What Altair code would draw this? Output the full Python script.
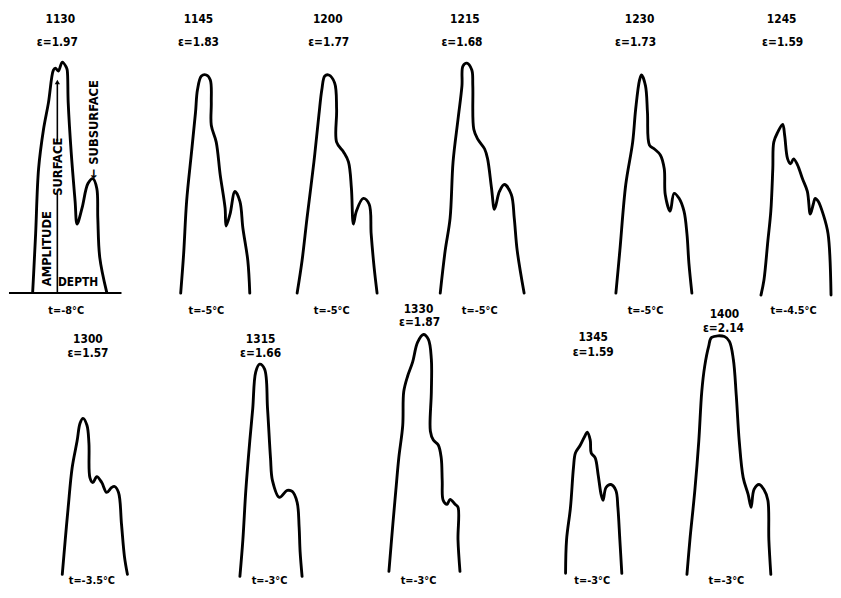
import altair as alt
import pandas as pd

# ---------------- data ----------------
times = ["1130", "1145", "1200", "1215", "1230", "1245",
         "1300", "1315", "1330", "1345", "1400"]
eps_values = ["1.97", "1.83", "1.77", "1.68", "1.73", "1.59",
              "1.57", "1.66", "1.87", "1.59", "2.14"]
temps = ["-8", "-5", "-5", "-5", "-5", "-4.5",
         "-3.5", "-3", "-3", "-3", "-3"]

# each trace: depth (from the trace's left foot) and amplitude (above its baseline)
depth_1130 = [0, 1, 3, 6, 11, 16, 21, 23, 26, 30, 34, 35, 36, 39, 43, 45, 50, 56, 61, 65, 66, 68, 75]
amp_1130 = [0, 19, 59, 125, 165, 192, 225, 227, 224, 233, 228, 225, 192, 142, 92, 69, 85, 110, 115, 105, 75, 35, 0]

depth_1145 = [0, 3, 6, 11, 15, 17, 21, 26, 30, 31, 31, 36, 40, 45, 46, 50, 55, 60, 63, 68, 70]
amp_1145 = [0, 40, 93, 143, 183, 206, 220, 221, 216, 193, 170, 153, 120, 86, 68, 80, 103, 93, 66, 33, 0]

depth_1200 = [0, 5, 10, 17, 22, 25, 28, 32, 38, 40, 40, 47, 52, 55, 57, 60, 67, 73, 75, 78, 81]
amp_1200 = [0, 33, 76, 133, 180, 206, 220, 221, 213, 186, 153, 143, 133, 106, 70, 83, 96, 90, 60, 26, 0]

depth_1215 = [0, 5, 10, 13, 18, 22, 23, 27, 32, 33, 34, 38, 45, 48, 52, 55, 60, 65, 72, 75, 78, 85]
amp_1215 = [0, 43, 76, 133, 176, 210, 230, 233, 226, 210, 166, 156, 146, 136, 106, 85, 103, 110, 100, 76, 43, 0]

depth_1230 = [0, 4, 10, 17, 20, 24, 26, 30, 32, 34, 39, 45, 49, 50, 55, 59, 64, 69, 72, 74, 77]
amp_1230 = [0, 43, 110, 153, 186, 216, 221, 210, 183, 150, 146, 140, 126, 100, 83, 101, 96, 83, 60, 30, 0]

depth_1245 = [0, 3, 7, 10, 12, 13, 17, 22, 24, 27, 30, 33, 37, 42, 47, 50, 53, 55, 58, 63, 68, 71]
amp_1245 = [0, 15, 55, 85, 128, 155, 165, 173, 162, 138, 133, 138, 132, 118, 105, 82, 92, 98, 95, 82, 62, 0]

depth_1300 = [0, 3, 6, 10, 15, 18, 21, 25, 27, 28, 31, 35, 40, 45, 50, 53, 57, 60, 63, 66]
amp_1300 = [0, 35, 68, 108, 135, 153, 158, 151, 133, 98, 93, 99, 93, 83, 88, 89, 83, 51, 18, 0]

depth_1315 = [0, 3, 6, 10, 13, 16, 20, 25, 28, 31, 33, 40, 48, 53, 58, 60, 61, 63]
amp_1315 = [0, 37, 87, 137, 170, 207, 215, 210, 170, 120, 97, 80, 87, 86, 75, 50, 25, 0]

depth_1330 = [0, 4, 7, 10, 14, 15, 19, 24, 29, 35, 40, 43, 43, 42, 45, 50, 53, 54, 55, 59, 62, 67, 70, 70, 72]
amp_1330 = [0, 48, 82, 115, 148, 182, 198, 212, 232, 240, 235, 215, 182, 142, 133, 128, 115, 92, 72, 68, 73, 68, 65, 32, 0]

depth_1345 = [0, 1, 5, 8, 10, 15, 20, 22, 25, 26, 30, 33, 36, 38, 41, 46, 51, 53, 55, 57]
amp_1345 = [0, 34, 67, 107, 122, 130, 140, 143, 135, 122, 117, 100, 80, 74, 87, 90, 84, 67, 34, 0]

depth_1400 = [0, 3, 8, 12, 15, 18, 22, 25, 38, 43, 47, 50, 53, 57, 62, 65, 68, 73, 78, 82, 83, 85]
amp_1400 = [0, 35, 85, 135, 185, 211, 231, 240, 241, 236, 218, 181, 135, 98, 81, 68, 86, 91, 86, 75, 35, 0]

depths = [depth_1130, depth_1145, depth_1200, depth_1215, depth_1230, depth_1245,
          depth_1300, depth_1315, depth_1330, depth_1345, depth_1400]
amps = [amp_1130, amp_1145, amp_1200, amp_1215, amp_1230, amp_1245,
        amp_1300, amp_1315, amp_1330, amp_1345, amp_1400]

# ---------------- layout (page positions of each small panel) ----------------
foot = [(32, 292), (182, 293), (300, 293), (445, 293), (623, 293), (770, 295),
        (62, 578), (242, 580), (393, 575), (572, 577), (695, 578)]
time_pos = [(60, 15), (200, 15), (331, 15), (470, 15), (647, 15), (791, 15),
            (88, 340), (263, 340), (423, 309), (600, 338), (733, 314)]
eps_pos = [(57, 39), (200, 39), (332, 39), (467, 39), (643, 39), (792, 39),
           (88, 354), (263, 354), (424, 322), (600, 353), (732, 328)]
temp_pos = [(66, 311), (208, 311), (335, 311), (485, 311), (653, 311), (803, 311),
            (92, 585), (272, 585), (423, 585), (599, 585), (735, 585)]

rows = []
for k, (d, a) in enumerate(zip(depths, amps)):
    x0, y0 = foot[k]
    for i, (dd, aa) in enumerate(zip(d, a)):
        rows.append({"panel": times[k], "i": i, "x": x0 + dd, "y": y0 - aa})
curves = pd.DataFrame(rows)

head_labels = []
temp_labels = []
for k in range(len(times)):
    head_labels.append({"x": time_pos[k][0], "y": time_pos[k][1], "text": times[k]})
    head_labels.append({"x": eps_pos[k][0], "y": eps_pos[k][1], "text": "ε=" + eps_values[k]})
    temp_labels.append({"x": temp_pos[k][0], "y": temp_pos[k][1], "text": "t=" + temps[k] + "°C"})
head_labels = pd.DataFrame(head_labels)
temp_labels = pd.DataFrame(temp_labels)

# explanatory sketch in the first panel
axis_rules = pd.DataFrame([
    {"x": 8, "x2": 122, "y": 293, "y2": 293, "w": 2.0},
    {"x": 57, "x2": 57, "y": 292, "y2": 192, "w": 1.6},
    {"x": 57, "x2": 57, "y": 139, "y2": 80, "w": 1.6},
])
arrow_head = pd.DataFrame([{"x": 57, "y": 79}])
vert_labels = pd.DataFrame([
    {"x": 47, "y": 248, "text": "AMPLITUDE"},
    {"x": 58, "y": 165, "text": "SURFACE"},
    {"x": 94, "y": 127, "text": "← SUBSURFACE"},
])
horiz_labels = pd.DataFrame([{"x": 78, "y": 282, "text": "DEPTH"}])

FONT = "Liberation Sans Narrow, DejaVu Sans Condensed, Arial Narrow, sans-serif"

xs = alt.Scale(domain=[8, 833], nice=False, zero=False)
ys = alt.Scale(domain=[8, 590], nice=False, zero=False, reverse=True)
X = lambda f="x": alt.X(f"{f}:Q", scale=xs, axis=None)
Y = lambda f="y": alt.Y(f"{f}:Q", scale=ys, axis=None)

lines = alt.Chart(curves).mark_line(
    color="black", strokeWidth=2.9, interpolate="catmull-rom",
    strokeCap="round", strokeJoin="round"
).encode(x=X(), y=Y(), detail="panel:N", order="i:Q")

rules = alt.Chart(axis_rules).mark_rule(color="black").encode(
    x=X(), x2="x2:Q", y=Y(), y2="y2:Q",
    strokeWidth=alt.StrokeWidth("w:Q", scale=None)
)

head = alt.Chart(arrow_head).mark_point(
    shape="triangle-up", filled=True, color="black", size=28, opacity=1
).encode(x=X(), y=Y())

text = alt.Chart(head_labels).mark_text(
    font=FONT, fontWeight="bold", fontSize=12, color="black",
    align="center", baseline="middle"
).encode(x=X(), y=Y(), text="text:N")

ttext = alt.Chart(temp_labels).mark_text(
    font=FONT, fontWeight="bold", fontSize=11, color="black",
    align="center", baseline="middle"
).encode(x=X(), y=Y(), text="text:N")

vtext = alt.Chart(vert_labels).mark_text(
    font=FONT, fontWeight="bold", fontSize=13, color="black",
    align="center", baseline="middle", angle=270
).encode(x=X(), y=Y(), text="text:N")

htext = alt.Chart(horiz_labels).mark_text(
    font=FONT, fontWeight="bold", fontSize=12, color="black",
    align="center", baseline="middle"
).encode(x=X(), y=Y(), text="text:N")

chart = alt.layer(rules, head, lines, text, ttext, vtext, htext).properties(
    width=825, height=582, padding=0, background="white"
).configure_view(stroke=None)

chart.save("out.html", embed_options={"renderer": "svg", "actions": False})
